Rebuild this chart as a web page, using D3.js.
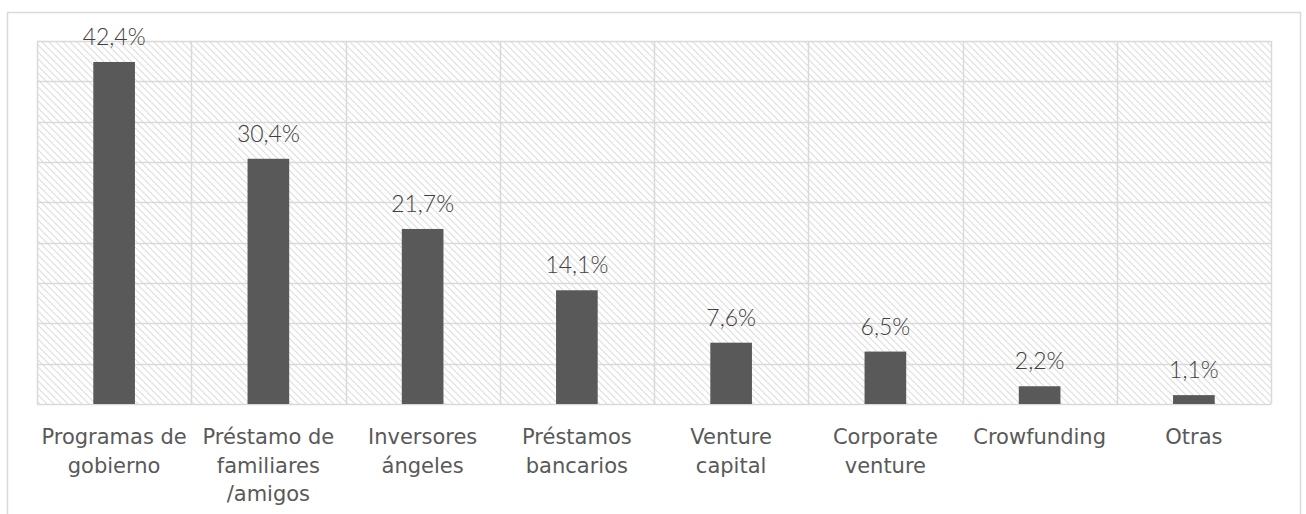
<!DOCTYPE html>
<html><head><meta charset="utf-8">
<script src="https://cdn.jsdelivr.net/npm/d3@7"></script>
<style>body{margin:0;background:#fff;} svg{display:block;}</style>
</head><body>
<svg id="c" width="1306" height="514"></svg>
<script>
const categories = ["Programas de gobierno","Préstamo de familiares /amigos","Inversores ángeles","Préstamos bancarios","Venture capital","Corporate venture","Crowfunding","Otras"];
const categoryLines = [["Programas de","gobierno"],["Préstamo de","familiares","/amigos"],["Inversores","ángeles"],["Préstamos","bancarios"],["Venture","capital"],["Corporate","venture"],["Crowfunding"],["Otras"]];
const values = [42.4,30.4,21.7,14.1,7.6,6.5,2.2,1.1];
const valueLabels = ["42,4%","30,4%","21,7%","14,1%","7,6%","6,5%","2,2%","1,1%"];
const yTicks = [0,5,10,15,20,25,30,35,40,45];

const svg = d3.select("#c");
const m = {l:37, r:1271, t:41, b:404};

svg.append("rect").attr("x",7.5).attr("y",12.5).attr("width",1293).attr("height",520)
  .attr("fill","#fff").attr("stroke","#d9d9d9").attr("stroke-width",1.5);

const defs = svg.append("defs");
const pat = defs.append("pattern").attr("id","hatch").attr("patternUnits","userSpaceOnUse")
  .attr("width",7).attr("height",7);
pat.append("rect").attr("width",7).attr("height",7).attr("fill","#fff");
pat.append("path").attr("d","M-2,-2 L9,9 M-2,5 L2,9 M5,-2 L9,2")
  .attr("stroke","#dedede").attr("stroke-width",1.1);

const x = d3.scaleBand().domain(categories).range([m.l,m.r]).paddingInner(0).paddingOuter(0);
const y = d3.scaleLinear().domain([0,45]).range([m.b,m.t]);

svg.append("rect").attr("x",m.l).attr("y",m.t).attr("width",m.r-m.l).attr("height",m.b-m.t)
  .attr("fill","url(#hatch)");

// horizontal grid
svg.append("g").selectAll("line").data(yTicks).join("line")
  .attr("x1",m.l).attr("x2",m.r).attr("y1",d=>Math.round(y(d))+0.5).attr("y2",d=>Math.round(y(d))+0.5)
  .attr("stroke","#d9d9d9").attr("stroke-width",1.5);
// vertical grid
const bounds = categories.map(c=>x(c)).concat([m.r]);
svg.append("g").selectAll("line").data(bounds).join("line")
  .attr("x1",d=>Math.round(d)+0.5).attr("x2",d=>Math.round(d)+0.5).attr("y1",m.t).attr("y2",m.b)
  .attr("stroke","#d9d9d9").attr("stroke-width",1.5);

const bw = x.bandwidth()*0.27;
svg.append("g").selectAll("rect").data(values).join("rect")
  .attr("x",(d,i)=>x(categories[i])+x.bandwidth()/2-bw/2)
  .attr("y",d=>y(d)).attr("width",bw).attr("height",d=>m.b-y(d))
  .attr("fill","#595959");

svg.append("g").selectAll("text").data(values).join("text")
  .attr("x",(d,i)=>x(categories[i])+x.bandwidth()/2)
  .attr("y",d=>y(d)-17)
  .attr("text-anchor","middle").attr("font-family","Lato, 'Open Sans', sans-serif")
  .attr("font-size",23).attr("font-weight",300).attr("fill","#404040")
  .text((d,i)=>valueLabels[i]);

const lab = svg.append("g").selectAll("text").data(categoryLines).join("text")
  .attr("text-anchor","middle").attr("font-family","'DejaVu Sans', sans-serif")
  .attr("font-size",21).attr("fill","#595959");
lab.each(function(lines,i){
  const t = d3.select(this);
  lines.forEach((s,j)=>t.append("tspan").attr("x",x(categories[i])+x.bandwidth()/2)
    .attr("y",444+j*28.5).text(s));
});
</script>
</body></html>
